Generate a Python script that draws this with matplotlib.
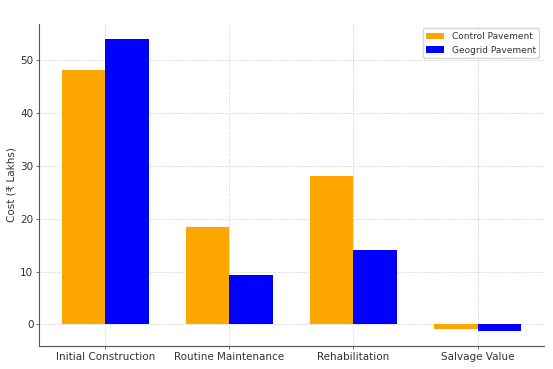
import numpy as np
import matplotlib
matplotlib.use("Agg")
import matplotlib.pyplot as plt

# cost components (Rs lakhs)
categories = ['Initial Construction', 'Routine Maintenance', 'Rehabilitation', 'Salvage Value']
control = [48, 18.5, 28, -0.8]
geogrid = [54, 9.3, 14, -1.3]

x = np.arange(len(categories))
width = 0.35
txt = '#333333'

fig = plt.figure(figsize=(5.53, 3.69), dpi=100)
ax = fig.add_axes([0.0705, 0.0623, 0.913, 0.8727])

ax.bar(x - width/2, control, width, label='Control Pavement', color='orange')
ax.bar(x + width/2, geogrid, width, label='Geogrid Pavement', color='blue')

ax.set_ylabel('Cost (₹ Lakhs)', fontsize=7.5, color=txt, labelpad=3)
ax.set_xticks(x)
ax.set_xticklabels(categories, fontsize=7.5)
ax.tick_params(axis='both', labelsize=7.5, colors='#555555', labelcolor=txt, length=2.5, width=0.6)
ax.tick_params(axis='x', pad=1.5)
ax.tick_params(axis='y', pad=1.5)
leg = ax.legend(fontsize=6.5, loc='upper right', framealpha=0.8)
for t in leg.get_texts():
    t.set_color(txt)
ax.grid(True, linestyle='--', color='#dddddd', linewidth=0.6)
ax.set_axisbelow(True)
ax.spines['top'].set_visible(False)
ax.spines['right'].set_visible(False)
ax.spines['left'].set_color('#555555')
ax.spines['bottom'].set_color('#555555')

fig.savefig('out.png', dpi=100)
